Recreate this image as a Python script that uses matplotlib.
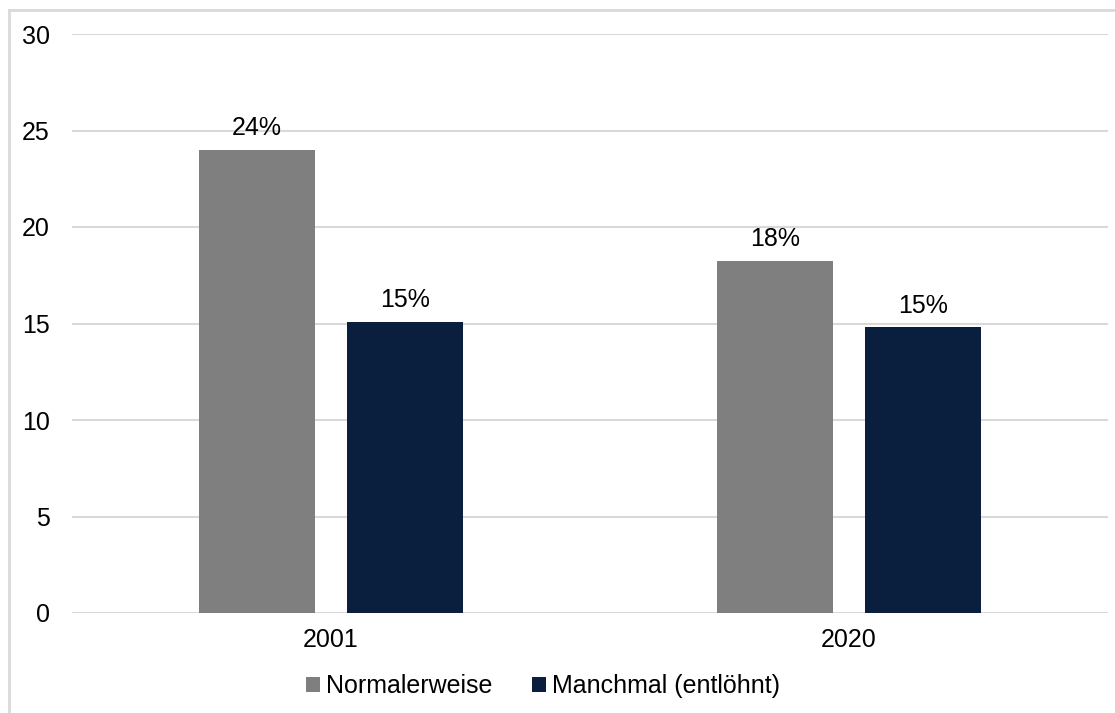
import numpy as np
import matplotlib.pyplot as plt
from matplotlib.lines import Line2D

plt.rcParams['font.family'] = ['Liberation Sans', 'DejaVu Sans']

years = ["2001", "2020"]
series_names = ["Normalerweise", "Manchmal (entlöhnt)"]
normal_vals = [24.0, 18.25]
manchmal_vals = [15.1, 14.8]
colors = ["#7F7F7F", "#0A1F3D"]
grid_color = "#D9D9D9"
fs = 18

fig = plt.figure(figsize=(11.15, 7.13), dpi=100)
ax = fig.add_axes([72 / 1115, 1 - 613 / 713, (1108 - 72) / 1115, (613 - 34) / 713])

x = np.arange(len(years))
width = 0.224
offset = 0.143

for vals, name, c, off in zip([normal_vals, manchmal_vals], series_names, colors, [-offset, offset]):
    bars = ax.bar(x + off, vals, width, color=c, label=name, zorder=3)
    for b, v in zip(bars, vals):
        ax.annotate(f"{round(v)}%", (b.get_x() + b.get_width() / 2, v),
                    xytext=(0, 7), textcoords="offset points",
                    ha="center", va="bottom", fontsize=fs, color="black")

ax.set_xlim(-0.5, 1.5)
ax.set_ylim(0, 30)
ax.set_yticks(range(0, 31, 5))
ax.set_xticks(x)
ax.set_xticklabels(years)
ax.yaxis.grid(True, color=grid_color, linewidth=1.5, zorder=0)
ax.set_axisbelow(True)
for s in ax.spines.values():
    s.set_visible(False)
ax.tick_params(axis="both", length=0, labelsize=fs)
ax.tick_params(axis="y", pad=16)
ax.tick_params(axis="x", pad=11)

fig.legend(loc="center", bbox_to_anchor=(543 / 1115, 1 - 686 / 713), ncol=2, frameon=False,
           fontsize=fs, handlelength=0.56, handleheight=0.56, handletextpad=0.24,
           columnspacing=1.6)

# light frame around the chart
fig.add_artist(Line2D([9 / 1115, 9 / 1115], [0, 1 - 10 / 713], transform=fig.transFigure,
                      color=grid_color, linewidth=2))
fig.add_artist(Line2D([9 / 1115, 1], [1 - 10 / 713, 1 - 10 / 713], transform=fig.transFigure,
                      color=grid_color, linewidth=2))

plt.savefig("out.png", dpi=100)
